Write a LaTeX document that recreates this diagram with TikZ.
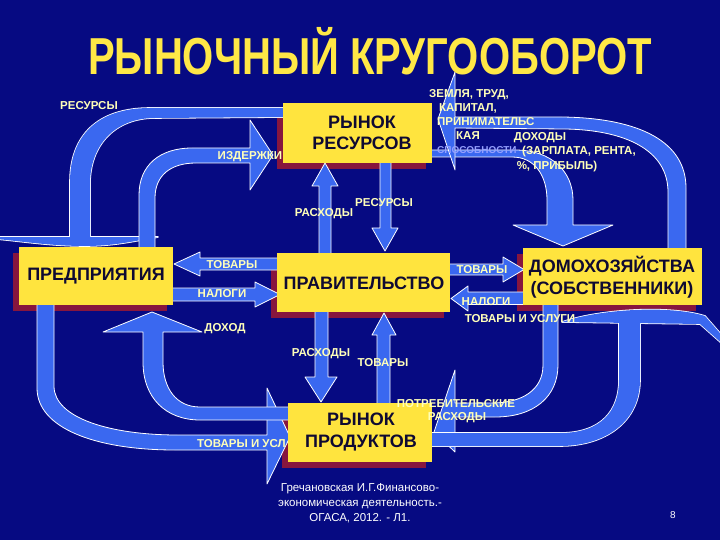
\documentclass[tikz,border=0pt]{standalone}
\usepackage{fontspec}
\setmainfont{Liberation Sans}
\usepackage{graphicx}
\definecolor{bg}{RGB}{6,10,130}
\definecolor{arrowblue}{RGB}{58,104,240}
\definecolor{boxyellow}{RGB}{255,228,62}
\definecolor{shadowred}{RGB}{135,22,62}
\definecolor{boxtext}{RGB}{15,10,50}
\definecolor{lblyellow}{RGB}{255,255,185}
\definecolor{titleyellow}{RGB}{255,232,70}
\definecolor{lav}{RGB}{150,160,255}
\tikzset{
  blk/.style={fill=arrowblue, draw=white, line width=0.8pt, line join=round},
  outl/.style={draw=white, line width=1.6pt, line join=round},
  box/.style={fill=boxyellow, inner sep=0pt},
  boxtxt/.style={text=boxtext, font=\bfseries\fontsize{18}{21.5}\selectfont, align=center, inner sep=0pt},
  lbl/.style={text=lblyellow, font=\bfseries\fontsize{11.5}{13}\selectfont, inner sep=0pt, text height=8.2pt, text depth=0pt},
}
\begin{document}
\begin{tikzpicture}[x=1pt,y=-1pt]
\fill[bg] (0,0) rectangle (720,540);
\useasboundingbox (0,0) rectangle (720,540);

% shadows
\fill[shadowred] (277,109) rectangle (426,169);
\fill[shadowred] (13,253) rectangle (167,311);
\fill[shadowred] (271,259) rectangle (444,318);
\fill[shadowred] (517,254) rectangle (696,311);
\fill[shadowred] (282,409) rectangle (426,468);

% arrow A (resources to firms) with flat head
\def\pA{(292,108) -- (150,108) .. controls (98,108) and (70,135) .. (70,182) -- (70,240) -- (90,240) -- (90,184) .. controls (90,145) and (115,118) .. (155,118) -- (292,117) -- cycle}
\def\lA{(-4,237) -- (158,237) .. controls (130,242) and (112,246) .. (85,246) .. controls (50,246) and (20,241) .. (-4,239) -- cycle}
\draw[outl] \pA; \draw[outl] \lA;
\fill[arrowblue] \pA; \fill[arrowblue] \lA;

% arrow B (costs)
\draw[blk] (139,252) -- (139,195) .. controls (139,165) and (160,148) .. (192,148) -- (250,148) -- (250,120) -- (273,155) -- (250,190) -- (250,163) -- (196,163) .. controls (170,163) and (155,176) .. (155,198) -- (155,252) -- cycle;

% arrow E (incomes to households)
\draw[blk] (430,150) -- (515,150) .. controls (552,150) and (573,172) .. (573,200) -- (573,225) -- (613,225) -- (563,246) -- (513,225) -- (547,225) -- (547,200) .. controls (547,176) and (535,157) .. (512,157) -- (430,157) -- cycle;

% arrow D (factors to resource market)
\draw[blk] (668,252) -- (668,192) .. controls (668,150) and (625,130) .. (565,129) -- (455,128) -- (455,170) -- (438,119) -- (455,72) -- (455,117) -- (562,117) .. controls (640,118) and (686,142) .. (686,188) -- (686,252) -- cycle;

% vertical arrows between resource market and government
\draw[blk] (319,256) -- (319,186) -- (312,186) -- (325,163) -- (338,186) -- (331,186) -- (331,256) -- cycle;
\draw[blk] (380,160) -- (380,228) -- (372,228) -- (385,251) -- (398,228) -- (391,228) -- (391,160) -- cycle;

% horizontal arrows around government
\draw[blk] (282,258) -- (200,258) -- (200,252) -- (174,264) -- (200,276) -- (200,270) -- (282,270) -- cycle;
\draw[blk] (170,288) -- (255,288) -- (255,282) -- (280,294.5) -- (255,307) -- (255,301) -- (170,301) -- cycle;
\draw[blk] (447,264) -- (503,264) -- (503,257) -- (524,269.5) -- (503,282) -- (503,275) -- (447,275) -- cycle;
\draw[blk] (526,292) -- (468,292) -- (468,286) -- (451,298.5) -- (468,311) -- (468,304.5) -- (526,304.5) -- cycle;

% bottom-left arrows
\draw[blk] (37,300) -- (37,388) .. controls (37,428) and (95,450) .. (175,450) -- (267,450) -- (267,484) -- (290,437) -- (267,388) -- (267,435) -- (178,435) .. controls (110,435) and (54,418) .. (54,386) -- (54,300) -- cycle;
\draw[blk] (292,407) -- (200,407) .. controls (176,407) and (163,388) .. (163,362) -- (163,332) -- (202,332) -- (152,312) -- (103,332) -- (143,332) -- (143,362) .. controls (143,398) and (166,420) .. (200,420) -- (292,420) -- cycle;

% vertical arrows between government and product market
\draw[blk] (315,308) -- (315,377) -- (305,377) -- (321,402) -- (337,377) -- (328,377) -- (328,308) -- cycle;
\draw[blk] (377,407) -- (377,335) -- (372,335) -- (384,313) -- (396,335) -- (390,335) -- (390,407) -- cycle;

% bottom-right arrows
\draw[blk] (543,300) -- (543,365) .. controls (543,390) and (522,403) .. (492,403) -- (455,403) -- (455,370) -- (434,432) -- (455,452) -- (455,417) -- (495,417) .. controls (535,417) and (558,396) .. (558,365) -- (558,300) -- cycle;
\def\pO{(430,433) -- (560,433) .. controls (602,433) and (619,410) .. (619,380) -- (619,316) -- (640,316) -- (640,380) .. controls (640,422) and (605,446) .. (560,446) -- (430,446) -- cycle}
\def\lO{(562,322) .. controls (600,309) and (670,305) .. (705,316) -- (726,340) -- (726,347) -- (700,324) -- cycle}
\draw[outl] \pO; \draw[outl] \lO;
\fill[arrowblue] \pO; \fill[arrowblue] \lO;

% boxes
\node[box, minimum width=149pt, minimum height=60pt] (rr) at (357.5,133) {};
\node[box, minimum width=154pt, minimum height=58pt] (pr) at (96,276) {};
\node[box, minimum width=173pt, minimum height=59pt] (gov) at (363.5,282.5) {};
\node[box, minimum width=179pt, minimum height=57pt] (hh) at (612.5,276.5) {};
\node[box, minimum width=144pt, minimum height=59pt] (rp) at (360,432.5) {};

\node[boxtxt] (rrt) at (362,133) {РЫНОК\\РЕСУРСОВ};
\node[boxtxt] (prt) at (96,276) {ПРЕДПРИЯТИЯ};
\node[boxtxt] (govt) at (364,283) {ПРАВИТЕЛЬСТВО};
\node[boxtxt] (hht) at (612,277) {ДОМОХОЗЯЙСТВА\\(СОБСТВЕННИКИ)};
\node[boxtxt] (rpt) at (361,432) {РЫНОК\\ПРОДУКТОВ};

% title
\node[text=titleyellow, font=\bfseries\fontsize{52}{60}\selectfont, anchor=base, inner sep=0pt] (title) at (370,75) {\scalebox{0.77}[1]{РЫНОЧНЫЙ КРУГООБОРОТ}};

% labels
\node[lbl] (l1) at (89,105) {РЕСУРСЫ};
\node[lbl] (l2) at (250,155) {ИЗДЕРЖКИ};
\node[lbl] (l3) at (324,212) {РАСХОДЫ};
\node[lbl] (l4) at (384,202) {РЕСУРСЫ};
\node[lbl] (z1) at (469,93) {ЗЕМЛЯ, ТРУД,};
\node[lbl] (z2) at (468,107) {КАПИТАЛ,};
\node[lbl, anchor=west] (z3) at (437,121) {ПРИНИМАТЕЛЬС};
\node[lbl] (z4) at (468,135) {КАЯ};
\node[lbl, text=lav, anchor=west, font=\bfseries\fontsize{10}{12}\selectfont, text height=7.2pt] (z5) at (437,150) {СПОСОБНОСТИ};
\node[lbl] (d0) at (540,136) {ДОХОДЫ};
\node[lbl, anchor=west] (d1) at (522,150) {(ЗАРПЛАТА, РЕНТА,};
\node[lbl] (d2) at (557,165) {\%, ПРИБЫЛЬ)};
\node[lbl] (l5) at (232,264) {ТОВАРЫ};
\node[lbl] (l6) at (222,293) {НАЛОГИ};
\node[lbl] (l7) at (482,269) {ТОВАРЫ};
\node[lbl] (l8) at (486,301) {НАЛОГИ};
\node[lbl] (l9) at (520,318) {ТОВАРЫ И УСЛУГИ};
\node[lbl] (l10) at (225,327) {ДОХОД};
\node[lbl] (l11) at (321,352) {РАСХОДЫ};
\node[lbl] (l12) at (383,362) {ТОВАРЫ};
\node[lbl] (l13) at (456,403) {ПОТРЕБИТЕЛЬСКИЕ};
\node[lbl] (l14) at (457,416) {РАСХОДЫ};
\node[lbl, anchor=west] (l15) at (197,443) {ТОВАРЫ И УСЛ};

% credit and page number
\node[text=white, font=\fontsize{11.5}{15}\selectfont, align=center, inner sep=0pt] (cred) at (360,503) {Гречановская И.Г.Финансово-\\экономическая деятельность.-\\ОГАСА, 2012. - Л1.};
\node[text=white, font=\fontsize{10}{12}\selectfont, inner sep=0pt] (pg) at (673,515) {8};
\end{tikzpicture}
\end{document}
